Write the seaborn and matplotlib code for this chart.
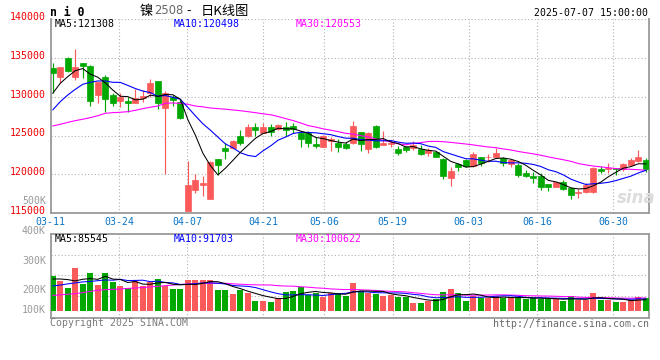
import numpy as np
import pandas as pd
import matplotlib
matplotlib.use("Agg")
import matplotlib.pyplot as plt
import seaborn as sns

# ---------------- data ----------------
tick_labels = ["03-11", "03-24", "04-07", "04-21", "05-06", "05-19", "06-03", "06-16", "06-30"]
tick_index = [0, 9, 18, 28, 36, 45, 55, 64, 74]

open_ = [133760, 132600, 135050, 132600, 134320, 133970, 130230, 132510, 130270, 129460,
         129500, 129240, 129800, 130530, 132040, 128600, 129950, 129290, 115300, 117970,
         118620, 116810, 121930, 123430, 123430, 124940, 124940, 126060, 125370, 126060,
         125890, 126140, 126270, 125280, 125280, 123910, 123560, 124340, 123990, 123860,
         123990, 125410, 123220, 126230, 123780, 123860, 123220, 123560, 123350, 123220,
         122700, 122920, 121930, 119560, 121280, 121840, 121070, 122190, 122190, 122270,
         122060, 121280, 121200, 120210, 119780, 119820, 118740, 118400, 119050, 118190,
         117540, 117760, 117670, 120640, 120640, 120770, 120640, 121200, 121760, 121840]
high = [134320, 133850, 135180, 136170, 134400, 134100, 131870, 132810, 130530, 130530,
        130020, 131010, 130880, 132300, 132040, 130750, 130250, 129590, 121710, 120040,
        119780, 121710, 122000, 123990, 124420, 125710, 126490, 126570, 126660, 126450,
        126450, 126790, 126660, 125580, 125580, 124850, 125070, 124850, 124510, 124210,
        126920, 125410, 125410, 126360, 125580, 124420, 123650, 123650, 124290, 123780,
        123350, 123050, 122060, 120900, 121500, 121930, 122920, 122190, 122570, 123350,
        122190, 121970, 121410, 120550, 120340, 120120, 118740, 119050, 119260, 118400,
        118060, 118830, 120980, 121070, 121410, 120770, 121500, 122060, 123130, 122060]
low = [130530, 131740, 133200, 132170, 132380, 128810, 129240, 128080, 128810, 128640,
       128080, 129240, 129370, 130020, 128430, 120000, 128750, 127130, 115300, 117630,
       117240, 116810, 119910, 121970, 123220, 123780, 124770, 124940, 125280, 124940,
       125710, 124940, 125280, 123560, 123560, 123430, 123560, 123050, 122920, 123220,
       123910, 123050, 122790, 123350, 123780, 123560, 122490, 122920, 123130, 122490,
       122360, 122190, 119390, 118530, 120470, 120980, 120980, 121070, 121630, 122060,
       121110, 120900, 119690, 119690, 118920, 117970, 117880, 118310, 117970, 116770,
       116890, 117540, 117540, 120210, 120210, 119910, 120470, 121110, 121630, 120340]
close = [133110, 133850, 133370, 133850, 134020, 129500, 131870, 129720, 129240, 130020,
         129240, 129800, 130150, 131820, 129240, 130530, 129550, 127220, 118620, 119260,
         118870, 121630, 121200, 123000, 124300, 124080, 126140, 125710, 126060, 125500,
         126320, 125710, 125800, 124550, 124080, 123650, 124940, 124550, 123560, 123430,
         126230, 123910, 125280, 123560, 124080, 124080, 122790, 123130, 123780, 122620,
         123130, 122270, 119820, 120470, 120980, 121070, 122620, 121410, 122270, 122790,
         121410, 121840, 119910, 119820, 119520, 118400, 118400, 118960, 118100, 117330,
         117760, 118620, 120850, 120420, 120770, 120640, 121280, 121840, 122270, 120640]
volume = [285, 244, 186, 353, 221, 312, 213, 312, 238, 205,
          189, 252, 205, 233, 262, 205, 180, 180, 254, 254,
          254, 254, 172, 172, 139, 167, 148, 82, 82, 74,
          107, 156, 164, 194, 131, 143, 115, 148, 148, 121,
          230, 162, 143, 137, 121, 131, 115, 110, 66, 66,
          80, 93, 156, 178, 148, 82, 121, 107, 102, 121,
          107, 102, 107, 98, 107, 98, 93, 93, 80, 121,
          88, 88, 148, 88, 88, 74, 74, 88, 112, 104]  # thousands

# moving-average values at the left edge (they depend on days before the window)
ma5_head = [130450, 131740, 132600, 133370]
ma10_head = [128300, 129370, 130230, 130960, 131610, 131870, 132040, 132040, 131870]
ma30_head = [126230, 126450, 126700, 126920, 127100, 127310, 127550, 127870, 127950, 128000,
             128080, 128250, 128470, 128650, 128810, 129160, 129200, 129150, 129030, 128800,
             128700, 128550, 128470, 128400, 128300, 128200, 128080, 127950, 127800]
vma5_head = [260, 260, 255, 244]
vma10_head = [203, 210, 220, 228, 236, 240, 246, 252, 250]
vma30_head = [125, 130, 135, 140, 148, 158, 168, 172, 175, 178,
              183, 186, 190, 195, 200, 205, 210, 215, 218, 222,
              224, 225, 225, 225, 220, 217, 214, 212, 211]

price_ticks = [115000, 120000, 125000, 130000, 135000, 140000]
ma_text = ["MA5:121308", "MA10:120498", "MA30:120553"]
vma_text = ["MA5:85545", "MA10:91703", "MA30:100622"]
vol_labels = ["500K", "400K", "300K", "200K", "100K"]

# ---------------- derived ----------------
n = len(close)
idx = np.arange(n)
o = np.array(open_, float); c = np.array(close, float)
h = np.array(high, float); l = np.array(low, float)
v = np.array(volume, float) * 1000


def ma(series, win, head):
    s = pd.Series(series).rolling(win).mean().to_numpy()
    s[:len(head)] = head
    return s

ma5 = ma(c, 5, ma5_head); ma10 = ma(c, 10, ma10_head); ma30 = ma(c, 30, ma30_head)
vma5 = ma(v, 5, np.array(vma5_head) * 1000)
vma10 = ma(v, 10, np.array(vma10_head) * 1000)
vma30 = ma(v, 30, np.array(vma30_head) * 1000)

RED = "#fa5a5a"; GREEN = "#00a800"
colors = np.where(c >= o, RED, GREEN)

# ---------------- figure ----------------
sns.set_style("white")
plt.rcParams["font.family"] = ["DejaVu Sans Mono", "Noto Sans CJK SC"]

W, H = 660, 360
fig = plt.figure(figsize=(W / 100, H / 100), dpi=100, facecolor="white")

L, R = 50.7, 649.0
ax = fig.add_axes([L / W, 1 - 213 / H, (R - L) / W, (213 - 19.3) / H])
axv = fig.add_axes([L / W, 1 - 318 / H, (R - L) / W, (318 - 234) / H])

GRID_STRETCH = 1.012
tick_pos = [t * GRID_STRETCH - 0.27 for t in tick_index]
xlim = (-0.27, 79.4)
grid_kw = dict(color="#b0b0b0", linestyle=(0, (1, 2)), linewidth=0.8)
spine_c = "#9a9a9a"

for a in (ax, axv):
    a.set_xlim(*xlim)
    a.set_xticks(tick_pos)
    a.tick_params(length=0)
    a.grid(True, **grid_kw)
    a.set_axisbelow(True)
    for s in ("left", "bottom", "right"):
        a.spines[s].set_color(spine_c)
        a.spines[s].set_linewidth(1.3)
    a.spines["top"].set_color(spine_c)
    a.spines["top"].set_linewidth(1.3)
ax.spines["top"].set_visible(False)

mono = dict(family="DejaVu Sans Mono", fontsize=7.1)

# main panel
ax.set_ylim(115000, 140000)
ax.set_yticks(price_ticks)
ax.set_yticklabels([])
ax.set_xticklabels(tick_labels, color="#0a74c4", **mono)
ax.tick_params(axis="x", pad=3)
ax.vlines(idx, l, h, colors=colors, linewidth=0.85, zorder=2)
ax.bar(idx, np.maximum(np.abs(c - o), 1), bottom=np.minimum(o, c), width=0.8,
       color=colors, edgecolor=colors, linewidth=0.5, zorder=3)
sns.lineplot(x=idx, y=ma30, color="#ff00ff", linewidth=0.8, ax=ax, zorder=4)
sns.lineplot(x=idx, y=ma10, color="#0000ff", linewidth=0.8, ax=ax, zorder=5)
sns.lineplot(x=idx, y=ma5, color="black", linewidth=0.75, ax=ax, zorder=6)
ax.set_xlabel(""); ax.set_ylabel("")
for p in price_ticks:
    ax.annotate(f"{p}", xy=(0, p), xycoords=("axes fraction", "data"),
                xytext=(-3.4, 1.6), textcoords="offset points",
                ha="right", va="center", color="#ee0000", annotation_clip=False, **mono)

# volume panel
axv.set_ylim(-60000, 629000)
axv.set_yticks([121000, 293000, 457000])
axv.set_yticklabels([])
axv.set_xticklabels([])
axv.bar(idx, v, width=0.8, color=colors, linewidth=0, zorder=3)
sns.lineplot(x=idx, y=vma30, color="#ff00ff", linewidth=0.75, ax=axv, zorder=4)
sns.lineplot(x=idx, y=vma10, color="#0000ff", linewidth=0.75, ax=axv, zorder=5)
sns.lineplot(x=idx, y=vma5, color="black", linewidth=0.75, ax=axv, zorder=6)
axv.set_xlabel(""); axv.set_ylabel("")


def ftext(x, y, s, **kw):
    fig.text(x / W, 1 - y / H, s, **kw)

# header
ftext(50, 12, "n i 0", family="DejaVu Sans Mono", fontsize=8.3, fontweight="bold",
      va="center", ha="left", color="black")
ftext(139.5, 11, "镍", family=["Noto Sans CJK SC"], fontsize=9.5, va="center", color="black")
ftext(154.5, 11, "2508", family=["DejaVu Sans"], fontsize=8.3, va="center", color="#666666")
ftext(186, 11, "-", family=["DejaVu Sans"], fontsize=9, va="center", color="black")
ftext(201, 11, "日K线图", family=["Noto Sans CJK SC"], fontsize=9.5, va="center", color="black")
ftext(648, 12.5, "2025-07-07 15:00:00", ha="right", va="center", color="black", **mono)

# MA legends
for x, s, col in zip([55, 174, 296], ma_text, ["black", "#0000ff", "#ff00ff"]):
    ftext(x, 24, s, ha="left", va="center", color=col, **mono)
for x, s, col in zip([55, 174, 296], vma_text, ["black", "#0000ff", "#ff00ff"]):
    ftext(x, 238.5, s, ha="left", va="center", color=col, **mono)

# volume axis labels
for y, s in zip([201, 231, 261, 290, 310], vol_labels):
    ftext(46, y, s, ha="right", va="center", color="#9a9a9a", **mono)

# footer
ftext(50, 323.5, "Copyright 2025 SINA.COM", ha="left", va="center", color="#7a7a7a", **mono)
ftext(649, 324, "http://finance.sina.com.cn", ha="right", va="center", color="#6a6a6a", **mono)

# watermark
ftext(636, 198, "sina", family="DejaVu Sans", fontsize=12, fontstyle="italic",
      fontweight="bold", ha="center", va="center", color="#dcdcdc", zorder=0)

fig.savefig("out.png", dpi=100, facecolor="white")
